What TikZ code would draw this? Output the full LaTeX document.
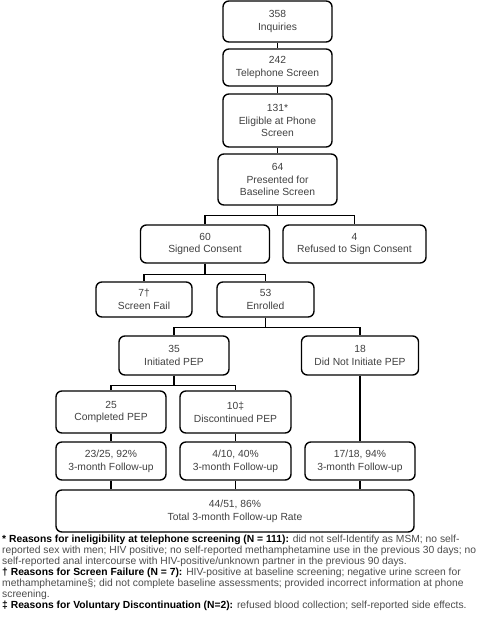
\documentclass[tikz,border=0pt]{standalone}
\usepackage{fontspec}
\setmainfont{Liberation Sans}
\definecolor{boxtext}{gray}{0.25}
\definecolor{notetext}{gray}{0.3}
\tikzset{
    box/.style 2 args={draw, rounded corners=5pt, line width=1.2pt, align=center,
        inner sep=0pt, text=boxtext, font=\fontsize{8.8}{11}\selectfont,
        minimum width=#1*0.03cm, minimum height=#2*0.03cm},
    link/.style={line width=1.2pt}
}
\begin{document}
\begin{tikzpicture}[x=0.03cm, y=-0.03cm]
    \useasboundingbox (0,0) rectangle (480,625);

    % Screening
    \node[box={109}{41}] (inq) at (277.5,21.5) {358\\Inquiries};
    \node[box={109}{37}] (tel) at (277.5,67.5) {242\\Telephone Screen};
    \node[box={109}{53}] (elig) at (277.5,120.5) {131*\\Eligible at Phone\\Screen};
    \node[box={119}{51}] (pres) at (277.5,179.5) {64\\Presented for\\Baseline Screen};
    \draw[link] (inq) -- (tel);
    \draw[link] (tel) -- (elig);
    \draw[link] (elig) -- (pres);

    % Consent
    \node[box={129}{38}] (sign) at (205,244) {60\\Signed Consent};
    \node[box={143}{38}] (refuse) at (354.5,244) {4\\Refused to Sign Consent};
    \draw[link] (pres.south) -- ++(0,10) -| (sign.north);
    \draw[link] (pres.south) -- ++(0,10) -| (refuse.north);

    % Enrollment
    \node[box={96}{35}] (fail) at (144,299.5) {7\dag\\Screen Fail};
    \node[box={97}{35}] (enrol) at (265.5,299.5) {53\\Enrolled};
    \draw[link] (sign.south) -- ++(0,11) -| (fail.north);
    \draw[link] (sign.south) -- ++(0,11) -| (enrol.north);

    % PEP
    \node[box={110}{39}] (init) at (174,355.5) {35\\Initiated PEP};
    \node[box={117}{39}] (noinit) at (360,355.5) {18\\Did Not Initiate PEP};
    \draw[link] (enrol.south) -- ++(0,10) -| (init.north);
    \draw[link] (enrol.south) -- ++(0,10) -| (noinit.north);

    \node[box={110}{42}] (compl) at (111,412) {25\\Completed PEP};
    \node[box={111}{42}] (disc) at (235.5,412) {10\ddag\\Discontinued PEP};
    \draw[link] (init.south) -- ++(0,10) -| (compl.north);
    \draw[link] (init.south) -- ++(0,10) -| (disc.north);

    % Follow-up
    \node[box={110}{38}] (fu1) at (111,461) {23/25, 92\%\\3-month Follow-up};
    \node[box={111}{38}] (fu2) at (235.5,461) {4/10, 40\%\\3-month Follow-up};
    \node[box={110}{38}] (fu3) at (360,461) {17/18, 94\%\\3-month Follow-up};
    \draw[link] (compl) -- (fu1);
    \draw[link] (disc) -- (fu2);
    \draw[link] (noinit) -- (fu3);

    \node[box={358}{42}] (total) at (235,511) {44/51, 86\%\\Total 3-month Follow-up Rate};
    \draw[link] (fu1.south) -- (fu1.south |- total.north);
    \draw[link] (fu2.south) -- (fu2.south |- total.north);
    \draw[link] (fu3.south) -- (fu3.south |- total.north);

    % Notes
    \node[anchor=north west, align=left, inner sep=0pt, text=notetext,
          font=\fontsize{8.8}{9.4}\selectfont] (notes) at (2,535) {%
        \textcolor{black}{\textbf{* Reasons for ineligibility at telephone screening (N = 111):}} did not self-Identify as MSM; no self-\\
        reported sex with men; HIV positive; no self-reported methamphetamine use in the previous 30 days; no\\
        self-reported anal intercourse with HIV-positive/unknown partner in the previous 90 days.\\
        \textcolor{black}{\textbf{† Reasons for Screen Failure (N = 7):}} HIV-positive at baseline screening; negative urine screen for\\
        methamphetamine§; did not complete baseline assessments; provided incorrect information at phone\\
        screening.\\
        \textcolor{black}{\textbf{‡ Reasons for Voluntary Discontinuation (N=2):}} refused blood collection; self-reported side effects.};
\end{tikzpicture}
\end{document}
